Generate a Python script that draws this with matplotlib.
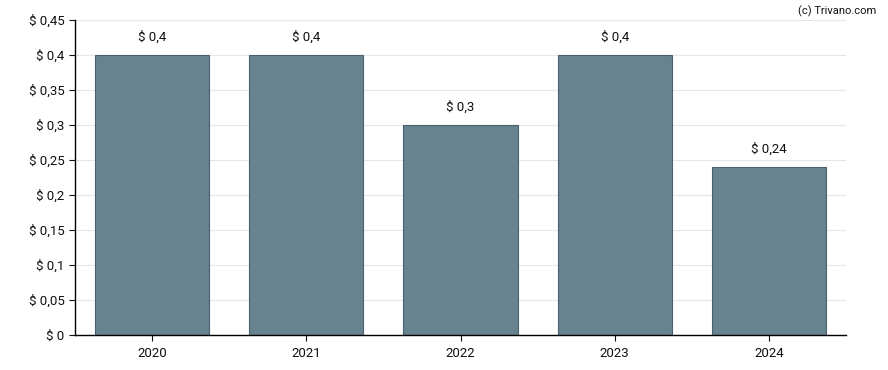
import matplotlib.pyplot as plt

plt.rcParams['font.family'] = ['Roboto', 'DejaVu Sans']

years = ["2020", "2021", "2022", "2023", "2024"]
dividends = [0.4, 0.4, 0.3, 0.4, 0.24]
bar_labels = ["$ 0,4", "$ 0,4", "$ 0,3", "$ 0,4", "$ 0,24"]
y_ticks = [0, 0.05, 0.1, 0.15, 0.2, 0.25, 0.3, 0.35, 0.4, 0.45]
y_tick_labels = ["$ 0", "$ 0,05", "$ 0,1", "$ 0,15", "$ 0,2", "$ 0,25",
                 "$ 0,3", "$ 0,35", "$ 0,4", "$ 0,45"]

fig = plt.figure(figsize=(8.88, 3.70), dpi=100)
ax = fig.add_axes([0.0845, 0.0946, 0.8682, 0.8513])

x = range(len(years))
ax.bar(x, dividends, width=0.74, color="#66838f", edgecolor="#4a6070", linewidth=0.8, zorder=2)

for xi, v, lab in zip(x, dividends, bar_labels):
    ax.annotate(lab, (xi, v), xytext=(0, 8), textcoords="offset points",
                ha="center", va="bottom", fontsize=9.5, color="#111111")

ax.set_xlim(-0.5, 4.5)
ax.set_ylim(0, 0.45)
ax.set_xticks(list(x))
ax.set_xticklabels(years)
ax.set_yticks(y_ticks)
ax.set_yticklabels(y_tick_labels)
ax.tick_params(axis="both", labelsize=9.5, colors="#111111", length=4, width=0.8)
ax.tick_params(axis="x", pad=5)
ax.yaxis.grid(True, color="#e6e6e6", linewidth=0.8, zorder=0)
ax.set_axisbelow(True)
for s in ["top", "right"]:
    ax.spines[s].set_visible(False)
for s in ["left", "bottom"]:
    ax.spines[s].set_color("black")
    ax.spines[s].set_linewidth(1.0)

fig.text(0.9865, 0.985, "(c) Trivano.com", ha="right", va="top", fontsize=8, color="#111111")

fig.savefig("out.png", dpi=100)
